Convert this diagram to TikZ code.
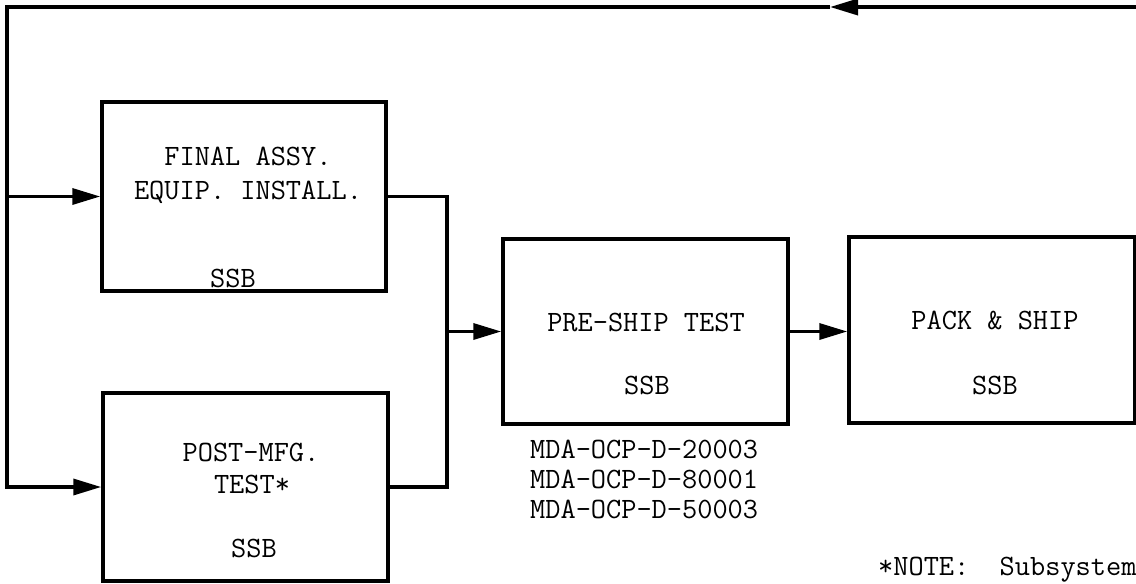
\documentclass[tikz,border=0pt]{standalone}
\usetikzlibrary{arrows.meta}
\begin{document}
\begin{tikzpicture}[x=1pt,y=-1pt,
  blk/.style={draw,line width=3.5pt,inner sep=0pt},
  lbl/.style={font=\ttfamily\fontsize{29.5}{33}\selectfont,inner sep=0pt,anchor=base},
  lblw/.style={font=\ttfamily\fontsize{29.5}{33}\selectfont,inner sep=0pt,anchor=base west},
  ln/.style={line width=3.5pt},
  arr/.style={ln,-{Triangle[length=28pt,width=16pt]}}]
\useasboundingbox (0,0) rectangle (1136,584);
\clip (0,0) rectangle (1136,584);
% boxes
\node[blk,minimum width=284pt,minimum height=189pt] (fin) at (244,196.5) {};
\node[blk,minimum width=285pt,minimum height=188pt] (post) at (245.5,487) {};
\node[blk,minimum width=285pt,minimum height=185pt] (pre) at (645.5,331.5) {};
\node[blk,minimum width=286pt,minimum height=186pt] (pack) at (992,330) {};
% labels
\node[lbl] (fin1) at (248,165) {FINAL ASSY.};
\node[lbl] (fin2) at (248,199) {EQUIP. INSTALL.};
\node[lbl] (fin3) at (233,287) {SSB};
\node[lbl] (post1) at (251,461) {POST-MFG.};
\node[lbl] (post2) at (252,493) {TEST*};
\node[lbl] (post3) at (254,557) {SSB};
\node[lbl] (pre1) at (646,331) {PRE-SHIP TEST};
\node[lbl] (pre2) at (647,394) {SSB};
\node[lbl] (pack1) at (995,329) {PACK \& SHIP};
\node[lbl] (pack2) at (995,394) {SSB};
\node[lblw] (doc1) at (530,458) {MDA-OCP-D-20003};
\node[lblw] (doc2) at (530,488) {MDA-OCP-D-80001};
\node[lblw] (doc3) at (530,518) {MDA-OCP-D-50003};
\node[lblw] (note) at (878,575) {*NOTE:\ \ Subsystem};
% connectors
\coordinate (tr) at (1145,7);
\coordinate (ta) at (830,7);
\coordinate (tl) at (7,7);
\coordinate (mt) at (447,196.5);
\coordinate (mb) at (447,487);
\draw[arr] (tr) -- (ta);
\draw[arr] (ta) -- (tl) |- (post.west);
\draw[arr] (tl |- fin.west) -- (fin.west);
\draw[ln] (fin.east) -- (mt) -- (mb) -- (post.east);
\draw[arr] (mt |- pre.west) -- (pre.west);
\draw[arr] (pre.east) -- (pre.east -| pack.west);
\end{tikzpicture}
\end{document}
